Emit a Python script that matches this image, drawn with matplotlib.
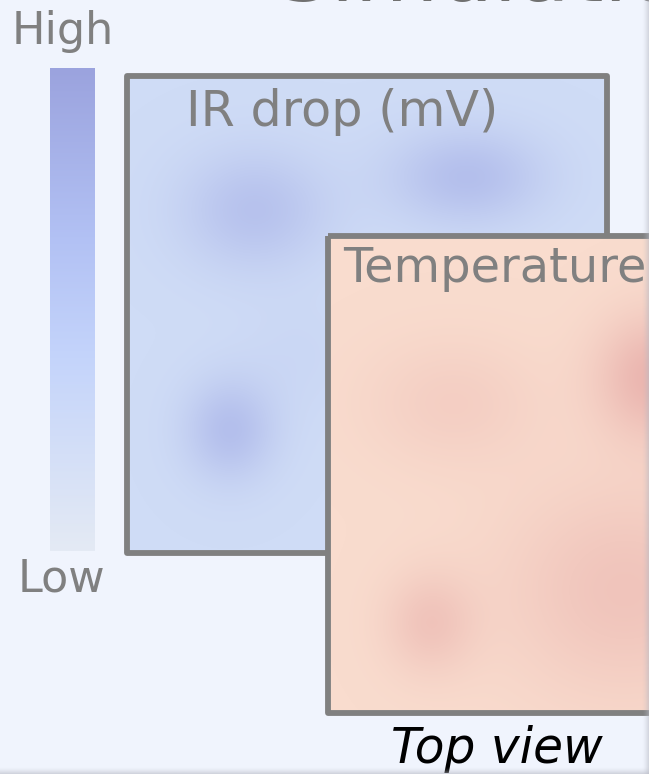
import numpy as np
import matplotlib
matplotlib.use("Agg")
import matplotlib.pyplot as plt
from matplotlib.colors import LinearSegmentedColormap, to_rgb
from matplotlib.patches import Rectangle

W, H = 649, 774

# ---- colour legend (High -> Low) ----
legend_stops = [0.0, 0.35, 0.6, 1.0]
legend_colors = ["#9BA3DE", "#B2C1F4", "#C4D4FB", "#E4EAF4"]

# ---- IR drop map: hot spots (centre x, centre y, spread x, spread y, strength) ----
ir_cx = [255, 467, 230, 300]
ir_cy = [210, 177, 430, 355]
ir_sx = [52, 55, 32, 42]
ir_sy = [42, 34, 36, 42]
ir_amp = [0.85, 0.95, 0.95, 0.15]

# ---- temperature map: hot spots ----
t_cx = [453, 652, 430, 625]
t_cy = [403, 377, 623, 590]
t_sx = [60, 40, 32, 85]
t_sy = [44, 44, 36, 75]
t_amp = [0.35, 1.0, 0.6, 0.62]

bg = "#F0F4FD"
edge = "#808080"
label_grey = "#808080"

fig = plt.figure(figsize=(W / 100, H / 100), dpi=100, facecolor=bg)
ax = fig.add_axes([0, 0, 1, 1])
ax.set_xlim(0, W)
ax.set_ylim(H, 0)
ax.axis("off")
ax.set_facecolor(bg)


def heat_field(x0, x1, y0, y1, cx, cy, sx, sy, amp):
    xs = np.arange(x0, x1) + 0.5
    ys = np.arange(y0, y1) + 0.5
    X, Y = np.meshgrid(xs, ys)
    f = np.zeros_like(X)
    for a, b, c, d, e in zip(cx, cy, sx, sy, amp):
        f += e * np.exp(-0.5 * (((X - a) / c) ** 2 + ((Y - b) / d) ** 2))
    return np.clip(f, 0, 1)


# Colour legend bar
cb_cmap = LinearSegmentedColormap.from_list(
    "legend", list(zip(legend_stops, legend_colors)))
grad = np.linspace(0, 1, 256)[:, None]
ax.imshow(grad, cmap=cb_cmap, extent=(50, 95, 551, 68), aspect="auto",
          interpolation="bilinear", zorder=1)
ax.text(12, 44, "High", fontsize=32, color=label_grey, va="baseline", ha="left")
ax.text(18, 592, "Low", fontsize=32, color=label_grey, va="baseline", ha="left")

# IR drop panel
ir_box = (127, 607, 76, 553)
ir_cmap = LinearSegmentedColormap.from_list("ir", ["#CFDCF6", "#B3BEEC"])
f_ir = heat_field(ir_box[0], ir_box[1], ir_box[2], ir_box[3],
                  ir_cx, ir_cy, ir_sx, ir_sy, ir_amp)
ax.imshow(f_ir, cmap=ir_cmap, vmin=0, vmax=1,
          extent=(ir_box[0], ir_box[1], ir_box[3], ir_box[2]),
          aspect="auto", interpolation="bilinear", zorder=2)
ax.add_patch(Rectangle((ir_box[0], ir_box[2]), ir_box[1] - ir_box[0],
                       ir_box[3] - ir_box[2], fill=False, edgecolor=edge,
                       linewidth=4.2, joinstyle="round", zorder=3))
ax.text(186, 126, "IR drop (mV)", fontsize=35.5, color=label_grey,
        va="baseline", ha="left", zorder=4)

# Temperature panel (runs past the right edge)
t_box = (328, 720, 236, 713)
t_cmap = LinearSegmentedColormap.from_list("temp", ["#F9DCCE", "#EBB6B0"])
f_t = heat_field(t_box[0], W, t_box[2], t_box[3],
                 t_cx, t_cy, t_sx, t_sy, t_amp)
ax.imshow(f_t, cmap=t_cmap, vmin=0, vmax=1,
          extent=(t_box[0], W, t_box[3], t_box[2]),
          aspect="auto", interpolation="bilinear", zorder=5)
ax.add_patch(Rectangle((t_box[0], t_box[2]), t_box[1] - t_box[0],
                       t_box[3] - t_box[2], fill=False, edgecolor=edge,
                       linewidth=4.2, joinstyle="round", zorder=6))
ax.text(343, 282, "Temperature", fontsize=34.5, color=label_grey,
        va="baseline", ha="left", zorder=7)

ax.text(391, 763, "Top view", fontsize=35, style="italic", color="black",
        va="baseline", ha="left", zorder=7)

# Heading running off the top
ax.text(276, 1, "Simulation", fontsize=62, color="#707070",
        va="baseline", ha="left", zorder=7)

# Soft page shadow along the right and bottom edges
sh = np.linspace(0, 1, 32) ** 1.5
shade = np.zeros((1, 32, 4))
shade[..., :3] = to_rgb("#B8BAC4")
shade[0, :, 3] = sh * 0.55
ax.imshow(shade, extent=(642, W, H, 0), aspect="auto",
          interpolation="bilinear", zorder=8)
shade_b = np.zeros((32, 1, 4))
shade_b[..., :3] = to_rgb("#B8BAC4")
shade_b[:, 0, 3] = sh * 0.6
ax.imshow(shade_b, extent=(0, W, H, 767), aspect="auto",
          interpolation="bilinear", zorder=8)

ax.set_xlim(0, W)
ax.set_ylim(H, 0)
fig.savefig("out.png", dpi=100, facecolor=bg)
